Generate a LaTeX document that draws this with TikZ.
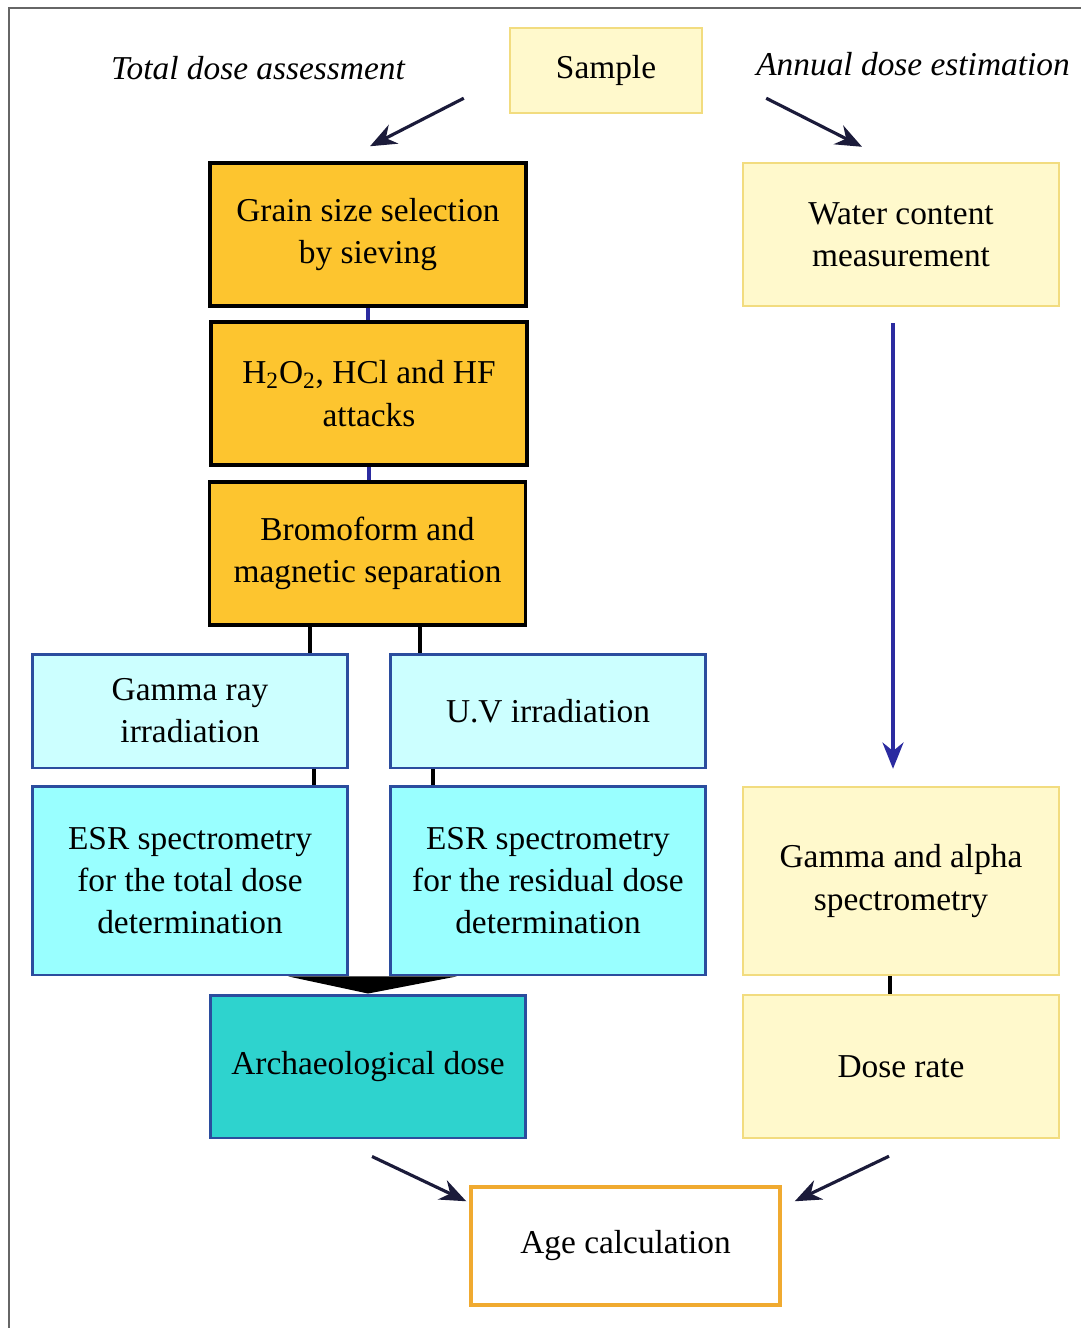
\documentclass[tikz,border=0pt]{standalone}
\usepackage{fontspec}
\setmainfont{Liberation Serif}
\usetikzlibrary{arrows.meta}
\definecolor{orangebox}{HTML}{FDC52F}
\definecolor{cyanlight}{HTML}{CCFFFF}
\definecolor{cyanbox}{HTML}{99FFFF}
\definecolor{tealbox}{HTML}{2ED3CE}
\definecolor{yellowbox}{HTML}{FFF9CC}
\definecolor{yellowline}{HTML}{F2DC7F}
\definecolor{blueline}{HTML}{2B4D9E}
\definecolor{ageline}{HTML}{F0AA30}
\definecolor{navy}{HTML}{1B1B3A}
\definecolor{arrowblue}{HTML}{2B2BA0}

\begin{document}
\begin{tikzpicture}[x=0.02cm, y=-0.02cm]
\tikzset{base/.style={rectangle, align=center, inner sep=2pt,
    font=\fontsize{19}{24}\selectfont},
  prepbox/.style={base, draw=black, line width=2pt, fill=orangebox,
    minimum width=6.32cm, minimum height=2.86cm},
  irrbox/.style={base, draw=blueline, line width=1.7pt, fill=cyanlight,
    minimum width=6.32cm, minimum height=2.28cm},
  esrbox/.style={base, draw=blueline, line width=1.7pt, fill=cyanbox,
    minimum width=6.32cm, minimum height=3.78cm},
  annbox/.style={base, draw=yellowline, line width=1.4pt, fill=yellowbox,
    minimum width=6.32cm},
  pointer/.style={-{Stealth[length=15pt, width=12pt]}, navy, line width=1.8pt},
  tie/.style={black, line width=2pt}}
\useasboundingbox (0,0) rectangle (1081,1328);
\draw[gray!80!black, line width=0.8pt] (9,1328) -- (9,8) -- (1081,8);

% top
\node[annbox, minimum width=3.84cm, minimum height=1.7cm] (sample) at (606,70.5) {Sample};
\node[base, font=\fontsize{19}{24}\selectfont\itshape] (totlabel) at (258,68) {Total dose assessment};
\node[base, font=\fontsize{19}{24}\selectfont\itshape] (annlabel) at (913,64) {Annual dose estimation};

% total dose branch
\node[prepbox] (grain) at (368,234.5) {Grain size selection\\by sieving};
\node[prepbox] (acid) at (369,393.5) {H\textsubscript{2}O\textsubscript{2}, HCl and HF\\attacks};
\node[prepbox] (bromo) at (367.5,553.5) {Bromoform and\\magnetic separation};
\node[irrbox] (gamma) at (190,711) {Gamma ray\\irradiation};
\node[irrbox] (uv) at (548,711) {U.V irradiation};
\node[esrbox] (esrt) at (190,880.5) {ESR spectrometry\\for the total dose\\determination};
\node[esrbox] (esrr) at (548,880.5) {ESR spectrometry\\for the residual dose\\determination};
\node[prepbox, draw=blueline, line width=1.7pt, fill=tealbox] (arch) at (368,1066.5) {Archaeological dose};

% annual dose branch
\node[annbox, minimum height=2.86cm] (water) at (901,234.5) {Water content\\measurement};
\node[annbox, minimum height=3.76cm] (gamalpha) at (901,881) {Gamma and alpha\\spectrometry};
\node[annbox, minimum height=2.86cm] (doserate) at (901,1066.5) {Dose rate};

% result
\node[base, draw=ageline, line width=2pt, fill=white, minimum width=6.18cm, minimum height=2.36cm] (age) at (625.5,1246) {Age calculation};

% connectors
\draw[arrowblue, line width=1.8pt] (grain.south) -- (grain.south |- acid.north);
\draw[arrowblue, line width=1.8pt] (acid.south) -- (acid.south |- bromo.north);
\draw[tie] ([xshift=-1.15cm]bromo.south) -- ([xshift=-1.15cm]bromo.south |- gamma.north);
\draw[tie] ([xshift=1.05cm]bromo.south) -- ([xshift=1.05cm]bromo.south |- uv.north);
\draw[tie] ([xshift=2.48cm]gamma.south) -- ([xshift=2.48cm]gamma.south |- esrt.north);
\draw[tie] ([xshift=-2.3cm]uv.south) -- ([xshift=-2.3cm]uv.south |- esrr.north);
\fill[black] ([xshift=-1.22cm]esrt.south east) -- ([xshift=1.36cm]esrr.south west) -- (arch.north) -- cycle;
\draw[tie] ([xshift=-0.22cm]gamalpha.south) -- ([xshift=-0.22cm]doserate.north);

% arrows
\draw[pointer] ([shift={(-45,-16)}]sample.south west) -- ([shift={(2,-15)}]grain.north);
\draw[pointer] ([shift={(63,-16)}]sample.south east) -- ([shift={(-39,-15)}]water.north);
\draw[-{Stealth[length=15pt, width=12pt]}, arrowblue, line width=1.8pt] ([shift={(-8,16)}]water.south) -- ([shift={(-8,-17)}]gamalpha.north);
\draw[pointer] ([shift={(4,17)}]arch.south) -- ([shift={(-3,16)}]age.north west);
\draw[pointer] ([shift={(-12,17)}]doserate.south) -- ([shift={(13,16)}]age.north east);
\end{tikzpicture}
\end{document}
